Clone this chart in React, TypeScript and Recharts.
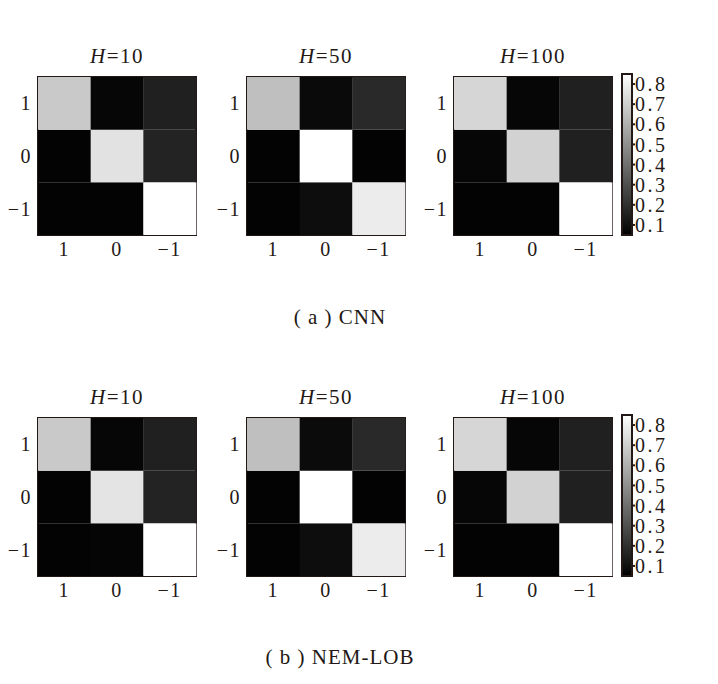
import React from "react";
import { BarChart, Bar, Cell, XAxis, YAxis, ReferenceArea } from "recharts";

// axis labels (predicted on x, true on y, top to bottom)
const predLabels = ["1", "0", "−1"];
const trueLabels = ["1", "0", "−1"];
const horizons = ["10", "50", "100"];
const colorbarTicks = [0.1, 0.2, 0.3, 0.4, 0.5, 0.6, 0.7, 0.8];

// confusion matrices, rows = true 1, 0, −1 ; cols = predicted 1, 0, −1
const cnnH10 = [
  [0.68, 0.07, 0.15],
  [0.06, 0.76, 0.16],
  [0.06, 0.06, 0.88],
];
const cnnH50 = [
  [0.65, 0.08, 0.18],
  [0.06, 0.9, 0.06],
  [0.06, 0.09, 0.79],
];
const cnnH100 = [
  [0.72, 0.07, 0.15],
  [0.07, 0.71, 0.15],
  [0.06, 0.06, 0.88],
];
const nemH10 = [
  [0.68, 0.07, 0.15],
  [0.06, 0.765, 0.16],
  [0.06, 0.065, 0.88],
];
const nemH50 = [
  [0.65, 0.085, 0.18],
  [0.06, 0.9, 0.06],
  [0.06, 0.09, 0.79],
];
const nemH100 = [
  [0.72, 0.07, 0.15],
  [0.07, 0.71, 0.15],
  [0.06, 0.06, 0.88],
];

const VMIN = 0.05;
const VMAX = 0.85;
const FONT = "'Liberation Serif', 'DejaVu Serif', serif";
const INK = "#231815";

const gray = (v: number) => {
  const t = Math.max(0, Math.min(1, (v - VMIN) / (VMAX - VMIN)));
  const g = Math.round(t * 255);
  return `rgb(${g},${g},${g})`;
};

// stacked from bottom: true −1, true 0, true 1
const stackKeys = [
  { key: "rowNeg", row: 2 },
  { key: "rowZero", row: 1 },
  { key: "rowOne", row: 0 },
];

const PLOT = 158;
const Y_W = 40;
const X_H = 30;
const colLefts = [38, 247, 454];
const rowTops = [77, 418];

const tickStyle = { fontSize: 20, fontFamily: FONT, fill: INK, letterSpacing: 1.5 };

const Heatmap = ({ matrix, left, top, title }: any) => {
  const data = predLabels.map((p) => ({ pred: p, rowNeg: 1, rowZero: 1, rowOne: 1 }));
  return (
    <>
      <div
        style={{
          position: "absolute",
          left,
          top: top - 32,
          width: PLOT,
          textAlign: "center",
          fontFamily: FONT,
          fontSize: 21,
          lineHeight: "22px",
          letterSpacing: 1.5,
          color: INK,
        }}
      >
        <i>H</i>={title}
      </div>
      <div style={{ position: "absolute", left: left - Y_W, top: top - 1 }}>
        <BarChart
          width={Y_W + PLOT + 1}
          height={PLOT + X_H + 1}
          data={data}
          margin={{ top: 1, right: 1, left: 0, bottom: 0 }}
          barCategoryGap={0}
          barGap={0}
        >
          <XAxis
            dataKey="pred"
            height={X_H}
            tickLine={false}
            axisLine={false}
            tickSize={0}
            tickMargin={7}
            tick={tickStyle}
          />
          <YAxis
            type="number"
            domain={[0, 3]}
            ticks={[0.5, 1.5, 2.5]}
            width={Y_W}
            tickLine={false}
            axisLine={false}
            tickSize={0}
            tickMargin={6}
            tickFormatter={(v: number) => trueLabels[2 - Math.floor(v)]}
            tick={tickStyle}
          />
          {stackKeys.map((s) => (
            <Bar key={s.key} dataKey={s.key} stackId="m" isAnimationActive={false}>
              {predLabels.map((p, j) => (
                <Cell key={p} fill={gray(matrix[s.row][j])} />
              ))}
            </Bar>
          ))}
          <ReferenceArea y1={0} y2={3} fill="none" stroke={INK} strokeWidth={2} ifOverflow="visible" />
        </BarChart>
      </div>
    </>
  );
};

const Colorbar = ({ left, top }: any) => (
  <div style={{ position: "absolute", left: left - 1, top: top - 1 }}>
    <BarChart
      width={60}
      height={163}
      data={[{ name: "cb", range: [VMIN, VMAX] }]}
      margin={{ top: 1, right: 0, left: 1, bottom: 1 }}
      barCategoryGap={0}
    >
      <defs>
        <linearGradient id={`cbGrad${top}`} x1="0" y1="1" x2="0" y2="0">
          <stop offset="0%" stopColor="#000" />
          <stop offset="100%" stopColor="#fff" />
        </linearGradient>
      </defs>
      <XAxis dataKey="name" hide />
      <YAxis
        type="number"
        orientation="right"
        domain={[VMIN, VMAX]}
        ticks={colorbarTicks}
        interval={0}
        width={49}
        axisLine={false}
        tickSize={3}
        tickMargin={0}
        tickLine={{ stroke: INK, strokeWidth: 2 }}
        tickFormatter={(v: number) => v.toFixed(1)}
        tick={{ ...tickStyle, letterSpacing: 2.5 }}
      />
      <Bar
        dataKey="range"
        fill={`url(#cbGrad${top})`}
        stroke={INK}
        strokeWidth={2}
        isAnimationActive={false}
      />
    </BarChart>
  </div>
);

const Caption = ({ text, top }: any) => (
  <div
    style={{
      position: "absolute",
      left: 0,
      width: 680,
      top,
      textAlign: "center",
      fontFamily: FONT,
      fontSize: 21,
      letterSpacing: 1,
      color: INK,
    }}
  >
    {text}
  </div>
);

const rows = [
  { mats: [cnnH10, cnnH50, cnnH100], caption: "( a ) CNN", captionTop: 305 },
  { mats: [nemH10, nemH50, nemH100], caption: "( b ) NEM-LOB", captionTop: 645 },
];

export default function App() {
  return (
    <div
      style={{
        position: "absolute",
        left: 0,
        top: 0,
        width: 718,
        height: 684,
        background: "#fff",
        overflow: "hidden",
      }}
    >
      {rows.map((r, ri) => (
        <React.Fragment key={ri}>
          {r.mats.map((m, ci) => (
            <Heatmap key={ci} matrix={m} left={colLefts[ci]} top={rowTops[ri]} title={horizons[ci]} />
          ))}
          <Colorbar left={622} top={rowTops[ri] - 3} />
          <Caption text={r.caption} top={r.captionTop} />
        </React.Fragment>
      ))}
    </div>
  );
}
